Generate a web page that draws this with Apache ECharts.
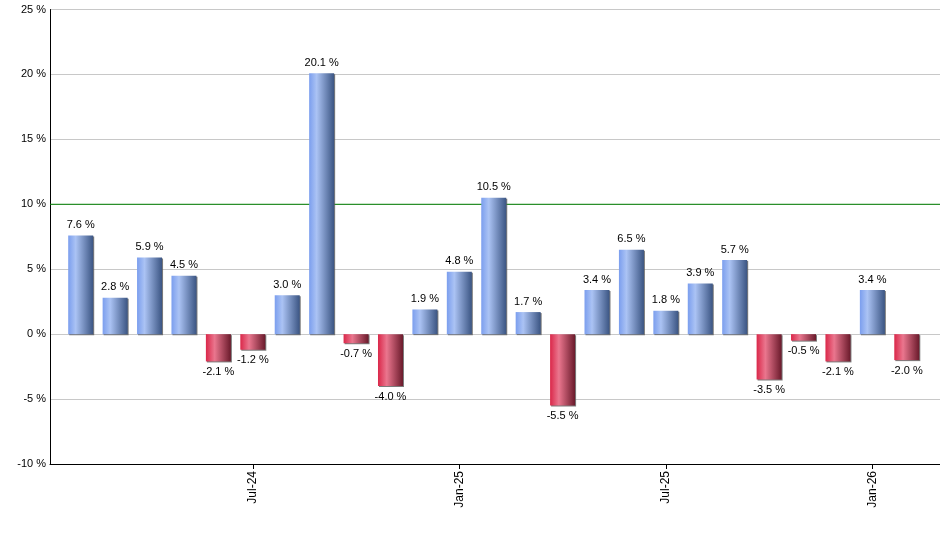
<!DOCTYPE html>
<html>
<head>
<meta charset="utf-8">
<script src="https://cdn.jsdelivr.net/npm/echarts@6/dist/echarts.min.js"></script>
<style>
html,body{margin:0;padding:0;background:#fff;}
#chart{width:940px;height:550px;}
</style>
</head>
<body>
<div id="chart"></div>
<script>
const months = ['Feb-24','Mar-24','Apr-24','May-24','Jun-24','Jul-24','Aug-24','Sep-24','Oct-24','Nov-24','Dec-24','Jan-25','Feb-25','Mar-25','Apr-25','May-25','Jun-25','Jul-25','Aug-25','Sep-25','Oct-25','Nov-25','Dec-25','Jan-26','Feb-26'];
const returns = [7.6, 2.8, 5.9, 4.5, -2.1, -1.2, 3.0, 20.1, -0.7, -4.0, 1.9, 4.8, 10.5, 1.7, -5.5, 3.4, 6.5, 1.8, 3.9, 5.7, -3.5, -0.5, -2.1, 3.4, -2.0];
const targetLine = 10;
const yMin = -10, yMax = 25, yStep = 5;
const spanMin = 0, spanMax = 1;

const FONT = 'Liberation Sans, Arial, sans-serif';
const blueGrad = new echarts.graphic.LinearGradient(0,0,1,0,[
  {offset:0,color:'#7b9eee'},{offset:0.3,color:'#abc3f4'},{offset:1,color:'#3b5583'}]);
const redGrad = new echarts.graphic.LinearGradient(0,0,1,0,[
  {offset:0,color:'#da2749'},{offset:0.35,color:'#ea768e'},{offset:1,color:'#6a1a2b'}]);

const barData = returns.map(v => ({
  value: v,
  itemStyle: {color: v >= 0 ? blueGrad : redGrad},
  label: {position: v >= 0 ? 'top' : 'bottom'}
}));

const showMonth = (i, v) => v.startsWith('Jul') || v.startsWith('Jan');

const chart = echarts.init(document.getElementById('chart'), null, {renderer:'canvas'});
chart.setOption({
  animation: false,
  backgroundColor: '#fff',
  grid: [
    {left: 50, right: 0, top: 9.5, bottom: 86},
    {left: 63.5, right: 16, top: 9.5, bottom: 86}
  ],
  xAxis: [
    {gridIndex: 0, type: 'value', min: spanMin, max: spanMax, show: true,
     axisLine: {show: true, onZero: false, lineStyle: {color: '#000', width: 1}},
     axisTick: {show: false}, axisLabel: {show: false}, splitLine: {show: false}},
    {gridIndex: 1, type: 'category', data: months, boundaryGap: true,
     axisLine: {show: true, onZero: false, lineStyle: {color: '#000', width: 1}},
     axisTick: {show: true, alignWithLabel: true, interval: showMonth, length: 5, lineStyle: {color: '#000', width: 1}},
     axisLabel: {interval: showMonth, rotate: 90, margin: 7, color: '#000', fontSize: 12, fontFamily: FONT},
     splitLine: {show: false}}
  ],
  yAxis: [
    {gridIndex: 0, type: 'value', min: yMin, max: yMax, interval: yStep,
     axisLine: {show: true, onZero: false, lineStyle: {color: '#000', width: 1}},
     axisTick: {show: false},
     axisLabel: {formatter: v => v + ' %', color: '#000', fontSize: 11, fontFamily: FONT, margin: 4},
     splitLine: {show: true, lineStyle: {color: '#c8c8c8', width: 1}}},
    {gridIndex: 1, type: 'value', min: yMin, max: yMax, interval: yStep, show: false,
     splitLine: {show: false}}
  ],
  series: [
    {type: 'line', xAxisIndex: 0, yAxisIndex: 0, silent: true, z: 1,
     data: [[spanMin, targetLine], [spanMax, targetLine]],
     showSymbol: false, symbol: 'none',
     lineStyle: {color: '#008000', width: 1, type: 'solid'}},
    {type: 'bar', xAxisIndex: 1, yAxisIndex: 1, data: barData, barWidth: 25, z: 10,
     itemStyle: {shadowColor: 'rgba(90,90,90,0.8)', shadowOffsetX: 1, shadowOffsetY: 1, shadowBlur: 0},
     label: {show: true, formatter: p => p.value.toFixed(1) + ' %', color: '#000', fontSize: 11, fontFamily: FONT, distance: 5}
    }
  ]
});
</script>
</body>
</html>
